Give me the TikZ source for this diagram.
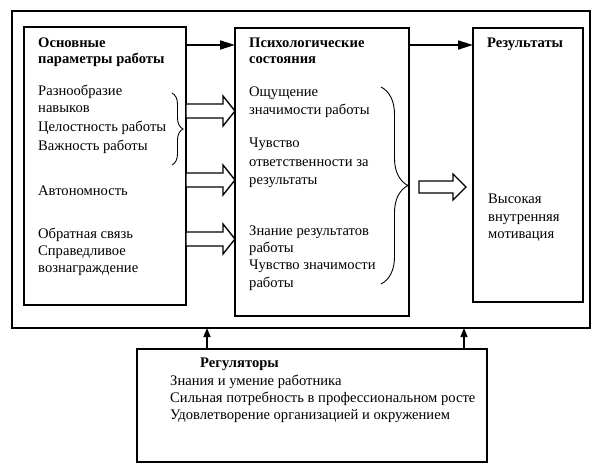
\documentclass[tikz,border=0pt]{standalone}
\usepackage{fontspec}
\setmainfont{Liberation Serif}
\usetikzlibrary{arrows.meta,decorations.pathreplacing,calc}
\newcommand\HollowArr[6]{% start x, head base x, tip x, centre y, shaft half, head half
  \draw[hol] (#1,{#4-#5}) -- (#2,{#4-#5}) -- (#2,{#4-#6}) -- (#3,#4) -- (#2,{#4+#6}) -- (#2,{#4+#5}) -- (#1,{#4+#5}) -- cycle;}
\begin{document}
\begin{tikzpicture}[x=1pt,y=-1pt,
  boxst/.style={draw,line width=1.5pt,anchor=north west,inner sep=0,outer sep=0},
  txt/.style={anchor=base west,inner sep=0,font=\fontsize{14.6}{17}\selectfont},
  arr/.style={line width=1.7pt,-{Triangle[length=15pt,width=9pt]}},
  uparr/.style={line width=1.5pt,-{Triangle[length=9pt,width=7pt]}},
  hol/.style={draw,line width=1.4pt,fill=white,line join=miter},
  brc/.style={decorate,line width=0.9pt}]
\useasboundingbox (0,0) rectangle (600,468);
\fill[white] (0,0) rectangle (600,468);

% boxes
\node[boxst,minimum width=578pt,minimum height=317pt] (fr) at (12,11) {};
\node[boxst,fill=white,minimum width=162pt,minimum height=278pt] (b1) at (24,27) {};
\node[boxst,fill=white,minimum width=174pt,minimum height=288pt] (b2) at (235,28) {};
\node[boxst,fill=white,minimum width=110pt,minimum height=274pt] (b3) at (473,28) {};
\node[boxst,fill=white,minimum width=350pt,minimum height=113pt] (reg) at (137,349) {};

% box 1 text
\node[txt] (a1) at (38,48) {\bfseries Основные};
\node[txt] (a2) at (38,64) {\bfseries параметры работы};
\node[txt] (a3) at (38,96) {Разнообразие};
\node[txt] (a4) at (38,113) {навыков};
\node[txt] (a5) at (38,132) {Целостность работы};
\node[txt] (a6) at (38,150) {Важность работы};
\node[txt] (a7) at (38,196) {Автономность};
\node[txt] (a8) at (38,238) {Обратная связь};
\node[txt] (a9) at (38,255) {Справедливое};
\node[txt] (a10) at (38,272) {вознаграждение};

% box 2 text
\node[txt] (c1) at (249,48) {\bfseries Психологические};
\node[txt] (c2) at (249,64) {\bfseries состояния};
\node[txt] (c3) at (249,97) {Ощущение};
\node[txt] (c4) at (249,115) {значимости работы};
\node[txt] (c5) at (249,148) {Чувство};
\node[txt] (c6) at (249,167) {ответственности за};
\node[txt] (c7) at (249,185) {результаты};
\node[txt] (c8) at (249,235) {Знание результатов};
\node[txt] (c9) at (249,252) {работы};
\node[txt] (c10) at (249,269) {Чувство значимости};
\node[txt] (c11) at (249,287) {работы};

% box 3 text
\node[txt] (d1) at (487,48) {\bfseries Результаты};
\node[txt] (d2) at (488,204) {Высокая};
\node[txt] (d3) at (488,221) {внутренняя};
\node[txt] (d4) at (488,238) {мотивация};

% regulators text
\node[txt] (r1) at (200,367) {\bfseries Регуляторы};
\node[txt] (r2) at (170,385) {Знания и умение работника};
\node[txt] (r3) at (170,402) {Сильная потребность в профессиональном росте};
\node[txt] (r4) at (170,419) {Удовлетворение организацией и окружением};

% solid arrows
\draw[arr] (b1.east |- 0,45) -- (b2.west |- 0,45);
\draw[arr] (b2.east |- 0,45) -- (b3.west |- 0,45);
\draw[uparr] (reg.north -| 207,0) -- (fr.south -| 207,0);
\draw[uparr] (reg.north -| 464,0) -- (fr.south -| 464,0);

% braces
\draw[brc,decoration={brace,amplitude=11pt}] (172,93) -- (172,165);
\draw[brc,decoration={brace,amplitude=27pt}] (381,87) -- (381,284);

% hollow arrows
\HollowArr{186}{223}{235}{111}{7}{15}
\HollowArr{186}{223}{235}{180}{7}{15}
\HollowArr{186}{223}{235}{239}{7}{15}
\HollowArr{419}{453}{466}{187}{6}{13}
\end{tikzpicture}
\end{document}
